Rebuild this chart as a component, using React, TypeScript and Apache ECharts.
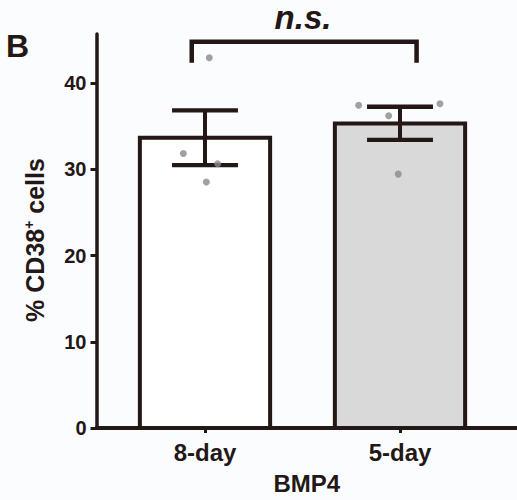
import React, { useEffect, useRef } from "react";
import * as echarts from "echarts";

const categories = ["8-day", "5-day"];
const means = [33.68, 35.33];
const upper = [36.83, 37.26];
const lower = [30.49, 33.41];
const pointValues = [
  [42.94, 31.84, 30.64, 28.53],
  [37.44, 36.22, 37.6, 29.45],
];
const jitter = [
  [0.022, -0.111, 0.065, 0.007],
  [-0.212, -0.058, 0.205, -0.009],
];
const yTicks = [0, 10, 20, 30, 40];
const bracket = [[0.932, 2.085, 44.8, 42.36]];

const DARK = "#231815";
const FILLS = ["#ffffff", "#d9d9d9"];
const FONT = "'Liberation Sans', Arial, Helvetica, sans-serif";

export default function App() {
  const ref = useRef<HTMLDivElement>(null);
  useEffect(() => {
    const chart = echarts.init(ref.current!, null, { renderer: "svg" });
    const barData = categories.map((c, i) => [i + 1, means[i], upper[i], lower[i]]);
    const pts: number[][] = [];
    pointValues.forEach((arr, i) =>
      arr.forEach((v, j) => pts.push([i + 1 + jitter[i][j], v]))
    );
    const halfBar = 0.334;
    const halfCap = 0.169;
    chart.setOption({
      animation: false,
      backgroundColor: "#fbfcfe",
      grid: { left: 96.5, right: 0, top: 34, bottom: 69.5 },
      xAxis: {
        type: "value",
        min: 0.4436,
        max: 2.6,
        splitLine: { show: false },
        axisLine: { lineStyle: { color: DARK, width: 4 } },
        axisTick: {
          customValues: [1, 2],
          length: 5,
          lineStyle: { color: DARK, width: 3 },
        },
        axisLabel: {
          customValues: [1, 2],
          formatter: (v: number) => categories[Math.round(v) - 1] ?? "",
          color: DARK,
          fontFamily: FONT,
          fontWeight: "bold",
          fontSize: 24,
          margin: 12,
        },
        name: "BMP4",
        nameLocation: "middle",
        nameGap: 43,
        nameTextStyle: {
          color: DARK,
          fontFamily: FONT,
          fontWeight: "bold",
          fontSize: 24,
        },
      },
      yAxis: {
        type: "value",
        min: 0,
        max: 45.7,
        splitLine: { show: false },
        axisLine: { show: true, lineStyle: { color: DARK, width: 3.5 } },
        axisTick: {
          show: true,
          customValues: yTicks,
          length: 6,
          lineStyle: { color: DARK, width: 3 },
        },
        axisLabel: {
          customValues: yTicks,
          color: DARK,
          fontFamily: FONT,
          fontWeight: "bold",
          fontSize: 20,
          margin: 10,
        },
      },
      graphic: [
        {
          type: "text",
          x: 6,
          y: 45.5,
          style: {
            text: "B",
            fill: DARK,
            font: `bold 32px ${FONT}`,
            textAlign: "left",
            textVerticalAlign: "middle",
          },
        },
        {
          type: "text",
          x: 303,
          y: 17,
          style: {
            text: "n.s.",
            fill: DARK,
            font: `italic bold 33px ${FONT}`,
            textAlign: "center",
            textVerticalAlign: "middle",
          },
        },
        {
          type: "text",
          x: 34.5,
          y: 240,
          rotation: Math.PI / 2,
          style: {
            text: "% CD38{sup|+} cells",
            fill: DARK,
            font: `bold 25px ${FONT}`,
            textAlign: "center",
            textVerticalAlign: "middle",
            rich: {
              sup: {
                fontSize: 14,
                fontWeight: "bold",
                fontFamily: FONT,
                fill: DARK,
                verticalAlign: "top",
                padding: [0, 0, 10, 0],
              },
            },
          },
        },
      ],
      series: [
        {
          type: "custom",
          data: barData,
          z: 2,
          renderItem: (params: any, api: any) => {
            const i = params.dataIndex;
            const x = api.value(0);
            const m = api.value(1);
            const p1 = api.coord([x - halfBar, m]);
            const p2 = api.coord([x + halfBar, 0]);
            return {
              type: "rect",
              shape: { x: p1[0], y: p1[1], width: p2[0] - p1[0], height: p2[1] - p1[1] },
              style: { fill: FILLS[i], stroke: DARK, lineWidth: 4 },
            };
          },
        },
        {
          type: "custom",
          data: barData,
          z: 3,
          renderItem: (params: any, api: any) => {
            const x = api.value(0);
            const hi = api.value(2);
            const lo = api.value(3);
            const top = api.coord([x, hi]);
            const bot = api.coord([x, lo]);
            const tl = api.coord([x - halfCap, hi]);
            const tr = api.coord([x + halfCap, hi]);
            const bl = api.coord([x - halfCap, lo]);
            const br = api.coord([x + halfCap, lo]);
            const ls = { stroke: DARK, lineWidth: 4.3 };
            return {
              type: "group",
              children: [
                { type: "line", shape: { x1: top[0], y1: top[1], x2: bot[0], y2: bot[1] }, style: { stroke: DARK, lineWidth: 4 } },
                { type: "line", shape: { x1: tl[0], y1: tl[1], x2: tr[0], y2: tr[1] }, style: ls },
                { type: "line", shape: { x1: bl[0], y1: bl[1], x2: br[0], y2: br[1] }, style: ls },
              ],
            };
          },
        },
        {
          type: "custom",
          data: bracket,
          z: 3,
          renderItem: (params: any, api: any) => {
            const x1 = api.value(0);
            const x2 = api.value(1);
            const yTop = api.value(2);
            const yBot = api.value(3);
            const a = api.coord([x1, yBot]);
            const b = api.coord([x1, yTop]);
            const c = api.coord([x2, yTop]);
            const d = api.coord([x2, yBot]);
            return {
              type: "polyline",
              shape: { points: [a, b, c, d] },
              style: { stroke: DARK, lineWidth: 4.5, fill: "none", lineJoin: "miter" },
            };
          },
        },
        {
          type: "scatter",
          data: pts,
          z: 5,
          symbol: "circle",
          symbolSize: 7,
          itemStyle: { color: "#8a8a8a" },
        },
      ],
    });
    return () => chart.dispose();
  }, []);
  return (
    <div
      ref={ref}
      style={{ position: "fixed", left: 0, top: 0, width: 517, height: 500 }}
    />
  );
}
